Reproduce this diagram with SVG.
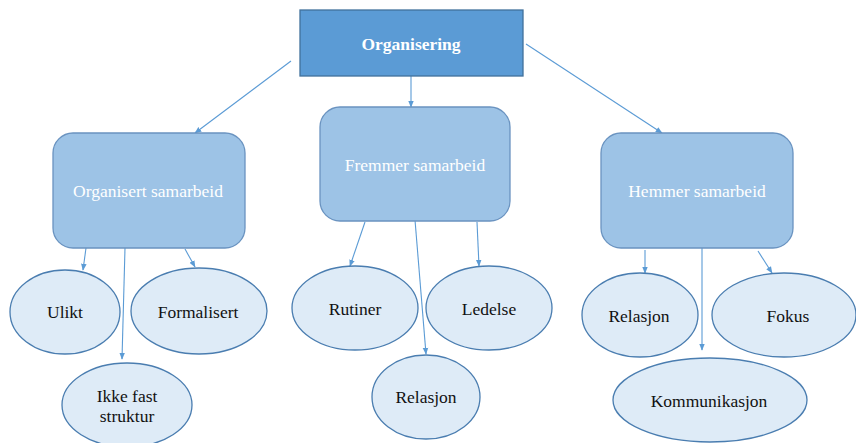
<svg xmlns="http://www.w3.org/2000/svg" width="856" height="443" viewBox="0 0 856 443">
  <style>
    .root { fill: #5b9bd5; stroke: #41719c; stroke-width: 1.3; }
    .box { fill: #9dc3e6; stroke: #6a93c0; stroke-width: 1.3; }
    .leaf { fill: #deebf7; stroke: #4a7db0; stroke-width: 1.3; }
    .lbl { font-family: 'Liberation Serif', 'DejaVu Serif', serif; font-size: 17.5px; text-anchor: middle; }
    .w { fill: #ffffff; }
    .k { fill: #111111; }
    .b { font-weight: bold; }
    .edge { stroke: #5b9bd5; stroke-width: 1.1; fill: none; marker-end: url(#ah); }
  </style>
  <defs>
    <marker id="ah" viewBox="0 0 10 10" refX="9" refY="5" markerWidth="7" markerHeight="7" markerUnits="userSpaceOnUse" orient="auto">
      <path d="M0,1 L10,5 L0,9 Z" fill="#5b9bd5"/>
    </marker>
  </defs>

  <rect width="856" height="443" fill="#ffffff"/>

  <g id="connectors">
    <line class="edge" x1="291" y1="61" x2="195" y2="133"/>
    <line class="edge" x1="411" y1="76" x2="411" y2="107"/>
    <line class="edge" x1="526" y1="44" x2="662" y2="133"/>

    <line class="edge" x1="86" y1="248" x2="83" y2="270"/>
    <line class="edge" x1="125" y1="248" x2="122" y2="359"/>
    <line class="edge" x1="185" y1="249" x2="195" y2="267"/>

    <line class="edge" x1="365" y1="222" x2="350" y2="266"/>
    <line class="edge" x1="415" y1="220" x2="426" y2="354"/>
    <line class="edge" x1="477" y1="222" x2="479" y2="266"/>

    <line class="edge" x1="645" y1="250" x2="645" y2="273"/>
    <line class="edge" x1="702" y1="248" x2="702" y2="350"/>
    <line class="edge" x1="758" y1="251" x2="772" y2="273"/>
  </g>

  <g id="organisering" font-family="Liberation Serif, serif">
    <rect class="root" x="300" y="10" width="223" height="66"/>
    <text class="lbl w b" x="411" y="50">Organisering</text>
  </g>

  <g id="organisert-samarbeid">
    <rect class="box" x="53" y="133" width="192" height="115" rx="20" ry="20"/>
    <text class="lbl w" x="148" y="197">Organisert samarbeid</text>
  </g>

  <g id="fremmer-samarbeid">
    <rect class="box" x="320" y="107" width="190" height="114" rx="20" ry="20"/>
    <text class="lbl w" x="415" y="171">Fremmer samarbeid</text>
  </g>

  <g id="hemmer-samarbeid">
    <rect class="box" x="601" y="133" width="192" height="115" rx="20" ry="20"/>
    <text class="lbl w" x="697" y="197">Hemmer samarbeid</text>
  </g>

  <g id="ulikt">
    <ellipse class="leaf" cx="65" cy="312" rx="55" ry="42"/>
    <text class="lbl k" x="65" y="318">Ulikt</text>
  </g>

  <g id="formalisert">
    <ellipse class="leaf" cx="199" cy="311" rx="68" ry="43"/>
    <text class="lbl k" x="198" y="318">Formalisert</text>
  </g>

  <g id="ikke-fast-struktur">
    <ellipse class="leaf" cx="127" cy="405" rx="65" ry="42"/>
    <text class="lbl k" x="127" y="402">Ikke fast</text>
    <text class="lbl k" x="127" y="422">struktur</text>
  </g>

  <g id="rutiner">
    <ellipse class="leaf" cx="355" cy="308" rx="63" ry="42"/>
    <text class="lbl k" x="355" y="315">Rutiner</text>
  </g>

  <g id="ledelse">
    <ellipse class="leaf" cx="489" cy="308" rx="63" ry="42"/>
    <text class="lbl k" x="489" y="315">Ledelse</text>
  </g>

  <g id="relasjon-fremmer">
    <ellipse class="leaf" cx="426" cy="397" rx="54" ry="42"/>
    <text class="lbl k" x="426" y="403">Relasjon</text>
  </g>

  <g id="relasjon-hemmer">
    <ellipse class="leaf" cx="640" cy="315" rx="58" ry="42"/>
    <text class="lbl k" x="639" y="322">Relasjon</text>
  </g>

  <g id="fokus">
    <ellipse class="leaf" cx="784" cy="315" rx="72" ry="42"/>
    <text class="lbl k" x="788" y="322">Fokus</text>
  </g>

  <g id="kommunikasjon">
    <ellipse class="leaf" cx="710" cy="400" rx="97" ry="42"/>
    <text class="lbl k" x="709" y="407">Kommunikasjon</text>
  </g>
</svg>
